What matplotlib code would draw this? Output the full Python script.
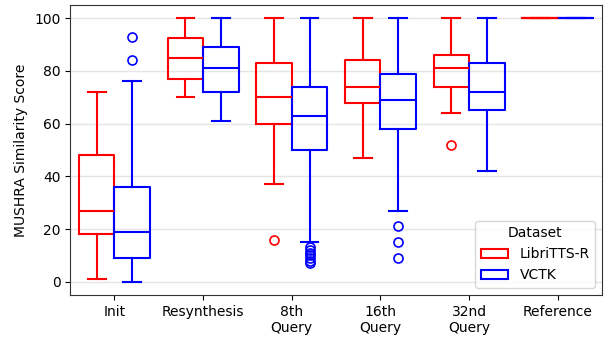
import matplotlib
matplotlib.use("Agg")
import matplotlib.pyplot as plt
from matplotlib.patches import Patch

# 箱线图统计量
categories = ["Init", "Resynthesis", "8th\nQuery", "16th\nQuery", "32nd\nQuery", "Reference"]
datasets = ["LibriTTS-R", "VCTK"]
colors = ["red", "blue"]

libri_whislo = [1, 70, 37, 47, 64, 100]
libri_q1 = [18, 77, 60, 68, 74, 100]
libri_med = [27, 85, 70, 74, 81, 100]
libri_q3 = [48, 92.5, 83, 84, 86, 100]
libri_whishi = [72, 100, 100, 100, 100, 100]
libri_fliers = [[], [], [16], [], [52], []]

vctk_whislo = [0, 61, 15, 27, 42, 100]
vctk_q1 = [9, 72, 50, 58, 65, 100]
vctk_med = [19, 81, 63, 69, 72, 100]
vctk_q3 = [36, 89, 74, 79, 83, 100]
vctk_whishi = [76, 100, 100, 100, 100, 100]
vctk_fliers = [[93, 84], [], [13, 12, 11, 10, 9, 8, 7], [21, 15, 9], [], []]


def make_stats(whislo, q1, med, q3, whishi, fliers):
    stats = []
    for i in range(len(whislo)):
        stats.append(dict(whislo=whislo[i], q1=q1[i], med=med[i], q3=q3[i],
                          whishi=whishi[i], fliers=fliers[i]))
    return stats


series = [
    make_stats(libri_whislo, libri_q1, libri_med, libri_q3, libri_whishi, libri_fliers),
    make_stats(vctk_whislo, vctk_q1, vctk_med, vctk_q3, vctk_whishi, vctk_fliers),
]

fig, ax = plt.subplots(figsize=(6.1, 3.37), dpi=100)

width = 0.4
offsets = [-0.2, 0.2]
lw = 1.5
for stats, color, off in zip(series, colors, offsets):
    pos = [i + off for i in range(len(categories))]
    ax.bxp(stats, positions=pos, widths=width, patch_artist=False,
           boxprops=dict(color=color, linewidth=lw),
           whiskerprops=dict(color=color, linewidth=lw),
           capprops=dict(color=color, linewidth=lw),
           medianprops=dict(color=color, linewidth=lw),
           flierprops=dict(marker="o", markerfacecolor="none",
                           markeredgecolor=color, markersize=6.5, markeredgewidth=1.2),
           manage_ticks=False, capwidths=width / 2)

ax.set_xticks(range(len(categories)))
ax.set_xticklabels(categories, fontsize=10)
ax.set_xlim(-0.5, len(categories) - 0.5)
ax.set_ylim(-5, 105)
ax.set_yticks([0, 20, 40, 60, 80, 100])
ax.tick_params(labelsize=10)
ax.set_ylabel("MUSHRA Similarity Score", fontsize=10)
ax.yaxis.grid(True, color="#e5e5e5", linewidth=1)
ax.set_axisbelow(True)
for sp in ax.spines.values():
    sp.set_color("#333333")

handles = [Patch(facecolor="none", edgecolor=c, linewidth=lw, label=d)
           for c, d in zip(colors, datasets)]
ax.legend(handles=handles, title="Dataset", loc="lower right", fontsize=10,
          title_fontsize=10)

plt.subplots_adjust(left=0.115, right=0.987, top=0.985, bottom=0.125)
plt.savefig("out.png", dpi=100)
